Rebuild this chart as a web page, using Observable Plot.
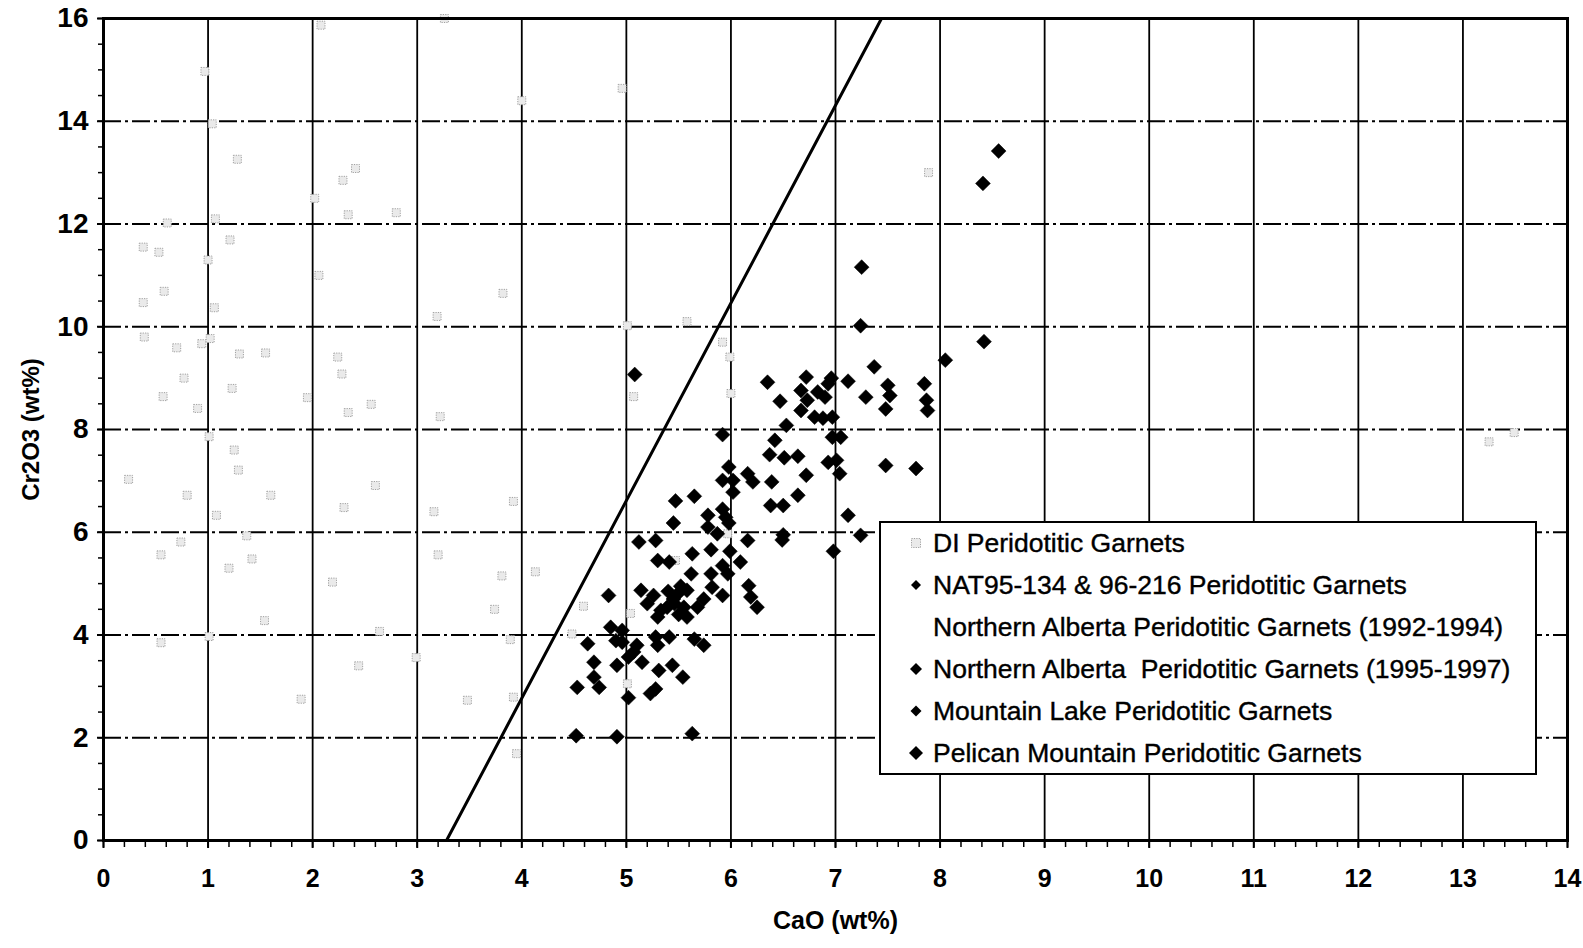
<!DOCTYPE html>
<html>
<head>
<meta charset="utf-8">
<script src="https://cdn.jsdelivr.net/npm/d3@7"></script>
<script src="https://cdn.jsdelivr.net/npm/@observablehq/plot@0.6"></script>
<style>
  body { margin: 0; background: #fff; }
  #wrap { position: relative; width: 1583px; height: 948px; font-family: "Liberation Sans", Arial, sans-serif; }
  #legend { position: absolute; left: 879px; top: 521px; width: 654px; height: 250px; border: 2px solid #000; background: #fff; box-sizing: content-box; }
  .row { position: absolute; left: 0; height: 30px; width: 650px; }
  .row span { position: absolute; left: 52px; top: 0; line-height: 30px; font-size: 26.5px; color: #000; white-space: pre; -webkit-text-stroke: 0.4px #000; }
  .row svg { position: absolute; left: 25px; top: 5px; }
</style>
</head>
<body>
<div id="wrap">
  <div id="chart"></div>
  <div id="legend"></div>
</div>
<script>
// ---------- data ----------
const xTitle = "CaO (wt%)";
const yTitle = "Cr2O3 (wt%)";
const xTicks = [0,1,2,3,4,5,6,7,8,9,10,11,12,13,14];
const yTicks = [0,2,4,6,8,10,12,14,16];

const seriesNames = [
  "DI Peridotitic Garnets",
  "NAT95-134 & 96-216 Peridotitic Garnets",
  "Northern Alberta Peridotitic Garnets (1992-1994)",
  "Northern Alberta  Peridotitic Garnets (1995-1997)",
  "Mountain Lake Peridotitic Garnets",
  "Pelican Mountain Peridotitic Garnets"
];

// discrimination line
const cutLineX = [3.28, 7.44];
const cutLineY = [0, 16];

// DI Peridotitic Garnets (grey)
const diGarnets = [
  [2.08,15.87],[3.26,16.0],[0.97,14.97],[1.04,13.95],[1.28,13.26],[2.02,12.5],[2.29,12.85],[2.41,13.08],
  [2.34,12.18],[2.80,12.22],[0.61,12.02],[1.07,12.1],[1.21,11.69],[0.38,11.55],[0.53,11.45],[1.0,11.3],
  [0.58,10.69],[2.06,11.0],[0.38,10.47],[1.06,10.37],[4.0,14.4],[4.96,14.64],[3.82,10.65],[3.19,10.2],
  [5.01,10.02],[5.58,10.1],[0.39,9.8],[0.70,9.59],[0.94,9.67],[1.02,9.77],[1.30,9.47],[1.55,9.49],
  [2.24,9.41],[2.28,9.08],[0.77,9.0],[1.23,8.8],[0.57,8.64],[0.90,8.41],[1.95,8.62],[2.34,8.33],
  [2.56,8.49],[3.22,8.25],[5.07,8.64],[5.99,9.41],[5.92,9.7],[6.0,8.7],[1.01,7.86],[1.25,7.6],
  [0.24,7.03],[1.29,7.21],[1.60,6.72],[0.80,6.72],[1.08,6.33],[2.60,6.91],[2.30,6.48],[3.16,6.4],
  [3.92,6.6],[0.74,5.81],[1.37,5.93],[1.42,5.48],[0.55,5.56],[1.20,5.3],[2.19,5.03],[3.20,5.56],
  [3.81,5.15],[4.13,5.23],[3.74,4.5],[4.59,4.56],[1.54,4.28],[0.55,3.85],[1.01,3.97],[2.64,4.07],
  [2.99,3.56],[2.44,3.4],[3.89,3.91],[1.89,2.75],[3.48,2.73],[3.92,2.79],[3.95,1.69],[7.89,13.0],
  [13.25,7.76],[13.49,7.94],[5.04,4.42],[5.47,5.45],[5.97,5.97],[5.01,3.05],[4.48,4.02]
];

// NAT95-134 & 96-216 Peridotitic Garnets
const natGarnets = [
  [8.56,13.42],[8.41,12.79],[7.25,11.16],[7.24,10.02],[8.42,9.71],[8.05,9.35]
];

// Northern Alberta Peridotitic Garnets (1992-1994): no visible markers
const na9294Garnets = [];

// Northern Alberta Peridotitic Garnets (1995-1997)
const na9597Garnets = [
  [7.37,9.22],[7.12,8.94],[7.29,8.63],[7.50,8.86],[7.52,8.66],[7.48,8.40],
  [7.85,8.89],[7.87,8.57],[7.88,8.37],[7.77,7.24],[7.48,7.30],
  [6.35,8.92],[6.72,9.02],[6.67,8.76],[6.73,8.57],[6.83,8.73],[6.93,8.89],[6.96,9.0],[6.67,8.37],
  [6.80,8.24],[6.90,8.63],[6.47,8.55],[6.88,8.22],[6.97,8.24],
  [6.53,8.08],[5.92,7.90],[6.97,7.85],[7.05,7.85],[6.42,7.79],[6.37,7.51],[6.51,7.45],[6.64,7.48],
  [6.93,7.36],[7.01,7.40],[7.04,7.14],[6.72,7.11],
  [5.98,7.27],[6.16,7.14],[6.21,6.98],[5.92,7.01],[6.02,7.01],[6.02,6.78],[6.39,6.98],[6.64,6.72],
  [6.38,6.52],[6.50,6.52],[6.49,5.85],[6.50,5.95],
  [5.47,6.61],[5.65,6.70],[5.45,6.18],[5.78,6.33],[5.92,6.45],[5.95,6.29],[5.98,6.18],[5.87,5.97],
  [5.78,6.10],[6.16,5.84],[5.12,5.81],[5.28,5.84],
  [5.81,5.66],[5.99,5.63],[6.09,5.42],[5.63,5.58],[5.92,5.35],[5.97,5.19],[5.81,5.19],[5.62,5.19],
  [5.82,4.93],[5.92,4.77],[6.17,4.96],[6.19,4.74],[6.25,4.54]
];

// Mountain Lake Peridotitic Garnets
const mountainLakeGarnets = [
  [4.52,2.04],[4.91,2.02],[5.63,2.08],[5.08,9.07],[7.24,5.94],[7.12,6.33],[6.98,5.63]
];

// Pelican Mountain Peridotitic Garnets
const pelicanGarnets = [
  [5.30,5.45],[5.41,5.42],[4.83,4.77],[5.14,4.87],[5.26,4.77],[5.49,4.80],[5.58,4.87],[5.46,4.61],
  [5.55,4.54],[5.39,4.54],[5.33,4.48],[5.74,4.70],[5.68,4.54],[5.30,4.35],[5.58,4.35],[5.20,4.61],
  [5.45,4.70],[5.52,4.95],[5.40,4.85],[5.50,4.40],
  [4.63,3.83],[4.85,4.15],[4.96,4.09],[4.90,3.89],[4.96,3.86],[5.10,3.80],[5.28,3.96],[5.30,3.80],
  [5.41,3.96],[5.65,3.92],[5.74,3.80],
  [4.69,3.47],[4.91,3.41],[5.02,3.57],[5.15,3.47],[5.07,3.67],[5.31,3.31],[5.44,3.41],[5.54,3.18],
  [4.69,3.18],[4.74,2.98],[4.53,2.98],[5.23,2.86],[5.28,2.95],[5.02,2.78]
];

// ---------- chart ----------
const xMinor = d3.range(0, 14.001, 0.2);
const yMinor = d3.range(0, 16.001, 0.5);
const cutLine = cutLineX.map((x, i) => ({x, y: cutLineY[i]}));
const blackSeries = [natGarnets, na9294Garnets, na9597Garnets, mountainLakeGarnets, pelicanGarnets];

const font = '"Liberation Sans", Arial, sans-serif';
const chart = Plot.plot({
  width: 1583,
  height: 948,
  marginLeft: 103,
  marginRight: 16,
  marginTop: 18,
  marginBottom: 108,
  x: {domain: [0, 14]},
  y: {domain: [0, 16]},
  style: {fontFamily: font, background: "#fff", color: "#000", overflow: "visible"},
  marks: [
    Plot.gridX(xTicks.slice(1, -1), {stroke: "#000", strokeOpacity: 1, strokeWidth: 1.8}),
    Plot.gridY(yTicks.slice(1, -1), {stroke: "#000", strokeOpacity: 1, strokeWidth: 1.8, strokeDasharray: "18,4,3,4"}),
    Plot.axisX(xMinor, {tickSize: 7, tickFormat: () => "", strokeWidth: 1.5, label: null}),
    Plot.axisX(xTicks, {tickSize: 8, tickPadding: 21, fontSize: 25, fontWeight: "bold", strokeWidth: 2, label: null, tickFormat: d => String(d)}),
    Plot.axisY(yMinor, {tickSize: 5, tickFormat: () => "", strokeWidth: 1.5, label: null}),
    Plot.axisY(yTicks, {tickSize: 6, tickPadding: 9, fontSize: 28, fontWeight: "bold", strokeWidth: 2, label: null, tickFormat: d => String(d)}),
    Plot.line(cutLine, {x: "x", y: "y", stroke: "#000", strokeWidth: 3}),
    Plot.dot(diGarnets, {x: d => d[0], y: d => d[1], symbol: "square", r: 4.5, fill: "#eaeaea", stroke: "#a0a0a0", strokeWidth: 1, strokeDasharray: "1.2,1.2"}),
    ...blackSeries.map(s => Plot.dot(s, {x: d => d[0], y: d => d[1], symbol: "diamond2", r: 6.7, fill: "#000", stroke: "#000", strokeWidth: 0.5})),
    Plot.frame({stroke: "#000", strokeWidth: 3}),
    Plot.text([yTitle], {text: d => d, frameAnchor: "left", textAnchor: "middle", dx: -72, rotate: -90, fontSize: 24, fontWeight: "bold", fill: "#000"}),
    Plot.text([xTitle], {text: d => d, frameAnchor: "bottom", textAnchor: "middle", dy: 88, fontSize: 25, fontWeight: "bold", fill: "#000"})
  ]
});
document.getElementById("chart").appendChild(chart);

// ---------- legend ----------
const legendMarkers = [
  {type: "square", size: 9},
  {type: "diamond", size: 10},
  {type: "none", size: 0},
  {type: "diamond", size: 12},
  {type: "diamond", size: 11},
  {type: "diamond", size: 14}
];
const legend = document.getElementById("legend");
const rowCenters = [20, 62, 104, 146, 188, 230];
seriesNames.forEach((name, i) => {
  const row = document.createElement("div");
  row.className = "row";
  row.style.top = (rowCenters[i] - 15) + "px";
  const m = legendMarkers[i];
  let svg = '<svg width="20" height="20" viewBox="-10 -10 20 20">';
  if (m.type === "square") {
    svg += `<rect x="${-m.size/2}" y="${-m.size/2}" width="${m.size}" height="${m.size}" fill="#eaeaea" stroke="#a0a0a0" stroke-dasharray="1.2,1.2"/>`;
  } else if (m.type === "diamond") {
    const h = m.size / 2;
    svg += `<path d="M0,${-h}L${h},0L0,${h}L${-h},0Z" fill="#000"/>`;
  }
  svg += '</svg>';
  row.innerHTML = svg + `<span></span>`;
  row.querySelector("span").textContent = name;
  legend.appendChild(row);
});
</script>
</body>
</html>
